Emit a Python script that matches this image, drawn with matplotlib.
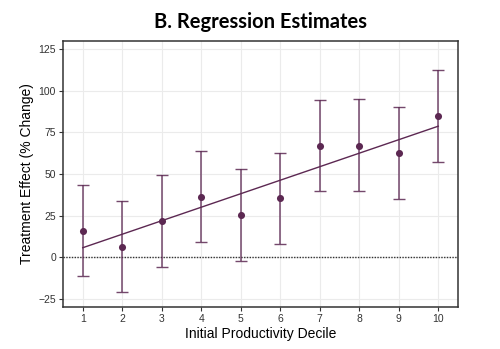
import matplotlib
matplotlib.use("Agg")
import matplotlib.pyplot as plt
import numpy as np

# decile-level treatment effects with 95% intervals
deciles = [1, 2, 3, 4, 5, 6, 7, 8, 9, 10]
estimate = [16.0, 6.4, 21.8, 36.2, 25.2, 35.3, 66.9, 67.1, 62.5, 84.6]
ci_low = [-11.4, -21.0, -5.8, 9.0, -2.2, 7.8, 39.5, 39.9, 35.0, 57.1]
ci_high = [43.5, 33.8, 49.3, 63.9, 52.7, 62.7, 94.4, 94.8, 90.0, 112.2]
yticks = [-25, 0, 25, 50, 75, 100, 125]

purple = '#5c2852'
plt.rcParams['font.family'] = ['Liberation Sans', 'DejaVu Sans']

fig = plt.figure(figsize=(5.0, 3.49), dpi=100)
ax = fig.add_axes([0.126, 0.120, 0.790, 0.763])

x = np.array(deciles, 'd')
y = np.array(estimate, 'd')
lo = y - np.array(ci_low, 'd')
hi = np.array(ci_high, 'd') - y

ax.axhline(0, color='#333333', linestyle=(0, (1, 1)), linewidth=1.0, zorder=2)
ax.errorbar(x, y, yerr=[lo, hi], fmt='none', ecolor=purple, elinewidth=1.1,
            capsize=4.5, capthick=1.0, alpha=0.85, zorder=3)
ax.scatter(x, y, s=26, color=purple, zorder=4, linewidths=0)

# linear fit across deciles
slope, intercept = np.polyfit(x, y, 1)
ax.plot(x, intercept + slope * x, color=purple, linewidth=1.0, zorder=3)

ax.set_xlim(0.5, 10.5)
ax.set_ylim(-30, 130)
ax.set_xticks(deciles)
ax.set_yticks(yticks)
ax.grid(color='#ebebeb', linewidth=0.8, zorder=0)
ax.set_axisbelow(True)
for s in ax.spines.values():
    s.set_color('#333333')
    s.set_linewidth(1.1)
ax.tick_params(labelsize=7.5, colors='#333333', length=3, width=0.8, pad=2)

ax.set_xlabel('Initial Productivity Decile', fontsize=10, labelpad=2)
ax.set_ylabel('Treatment Effect (% Change)', fontsize=10, labelpad=3)
fig.text(0.521, 0.938, 'B. Regression Estimates', ha='center', va='center',
         fontsize=14.5, fontweight='bold', family=['Lato', 'DejaVu Sans'])

fig.savefig('out.png', dpi=100)
